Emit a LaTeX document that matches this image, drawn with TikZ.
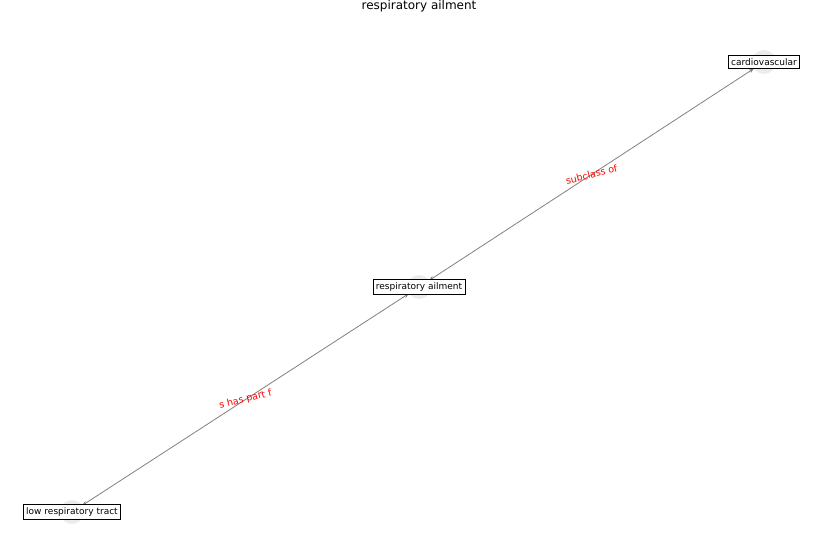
\documentclass[tikz,border=0pt]{standalone}
\usepackage{fontspec}
\setmainfont{DejaVu Sans}
\usetikzlibrary{arrows.meta}

\begin{document}
\begin{tikzpicture} [x=1pt, y=-1pt,
  dot/.style = {circle, fill=gray!15, minimum size=24pt, inner sep=0pt},
  lbl/.style = {draw, fill=white, font=\fontsize{9}{10}\selectfont, inner sep=3pt, line width=0.7pt},
  rel/.style = {draw=gray, line width=0.8pt, {Stealth[length=5pt,width=4pt]}-{Stealth[length=5pt,width=4pt]}},
  edgelbl/.style = {rotate=14, text=red, font=\fontsize{9.5}{10}\selectfont, inner sep=1pt}]
\useasboundingbox (0,0) rectangle (837,559);
\node[font=\fontsize{12}{13}\selectfont] (title) at (419,6) {respiratory ailment};
% nodes
\node[dot] (c) at (764,62) {};
\node[dot] (r) at (419,287) {};
\node[dot] (l) at (72,512) {};
% edges
\draw[rel] (r) -- (c) node[edgelbl, pos=.5]{subclass of};
\draw[rel] (r) -- (l) node[edgelbl, pos=.5]{s has part f};
% labels
\node[lbl] (cl) at (c) {cardiovascular};
\node[lbl] (rl) at (r) {respiratory ailment};
\node[lbl] (ll) at (l) {low respiratory tract};
\end{tikzpicture}
\end{document}
